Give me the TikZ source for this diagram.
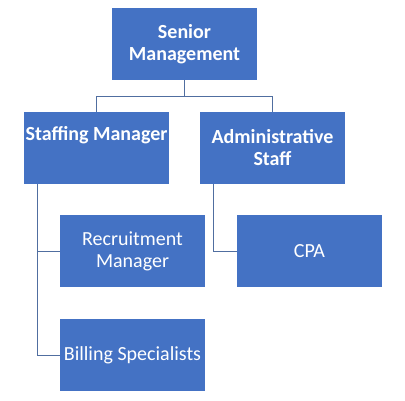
\documentclass[tikz,border=0pt]{standalone}
\usepackage{fontspec}
\setmainfont{Carlito}
\usetikzlibrary{positioning}
\definecolor{orgblue}{RGB}{68,114,196}
\definecolor{orgline}{RGB}{80,110,160}

\begin{document}
\begin{tikzpicture}[
        x=1pt,y=-1pt,
        box/.style={fill=orgblue,text=white,minimum width=145pt,minimum height=72pt,
                    inner sep=0pt,align=center,font={\fontsize{20}{22}\selectfont}},
        headbox/.style={box,font={\fontsize{20}{22}\selectfont\bfseries}},
        link/.style={orgline,line width=1pt}
        ]

        % Canvas
        \useasboundingbox (0,0) rectangle (405,400);

        % Top level
        \node[headbox] (senior) at (184.5,44) {Senior\\Management};

        % Second level
        \node[headbox] (staffing) at (96.5,148) {Staffing Manager\\\strut};
        \node[headbox] (admin) at (272.5,148) {Administrative\\Staff};

        % Third level
        \node[box] (recruit) at (132.5,251) {Recruitment\\Manager};
        \node[box] (billing) at (132.5,355) {Billing Specialists};
        \node[box] (cpa) at (309.5,251) {CPA};

        % Connectors
        \draw[link] (senior.south) -- ++(0,16) coordinate (split);
        \draw[link] (staffing.north) |- (split) -| (admin.north);

        \draw[link] ([xshift=14pt]staffing.south west) |- (recruit.west);
        \draw[link] ([xshift=14pt]staffing.south west) |- (billing.west);
        \draw[link] ([xshift=14pt]admin.south west) |- (cpa.west);
    \end{tikzpicture}
\end{document}
